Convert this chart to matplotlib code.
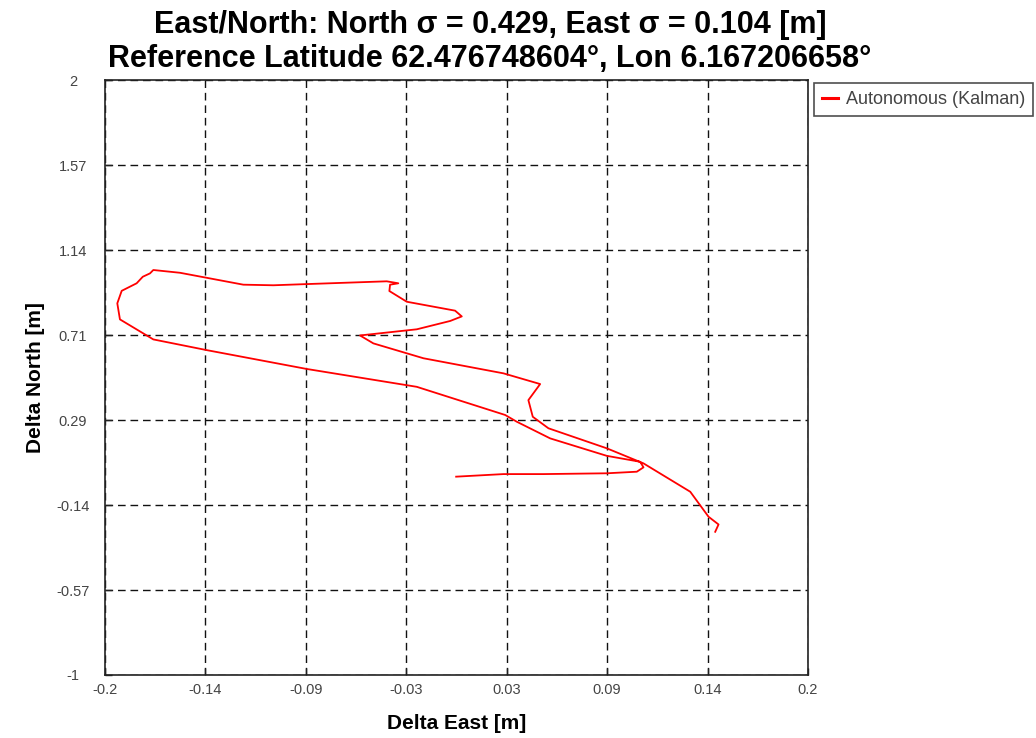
import matplotlib
matplotlib.use("Agg")
import matplotlib.pyplot as plt
import numpy as np

plt.rcParams['font.family'] = ['Liberation Sans', 'DejaVu Sans']

# Trajectory (Delta East, Delta North) in metres
east = [-0.0002, 0.0267, 0.0495, 0.0855, 0.1026, 0.1064, 0.1045, 0.0855, 0.0533,
        0.0343, 0.0277, -0.0226, -0.0852, -0.1421, -0.1725, -0.1915, -0.1930,
        -0.1905, -0.1820, -0.1785, -0.1744, -0.1725, -0.1573, -0.1213, -0.1042,
        -0.0852, -0.0397, -0.0331, -0.0378, -0.0382, -0.0283, -0.0008, 0.0030,
        -0.0036, -0.0226, -0.0549, -0.0473, -0.0188, 0.0267, 0.0476, 0.0409,
        0.0434, 0.0523, 0.0855, 0.1064, 0.1330, 0.1434, 0.1491, 0.1472]
north = [0.000, 0.013, 0.013, 0.017, 0.025, 0.047, 0.075, 0.105, 0.193,
         0.277, 0.311, 0.453, 0.543, 0.638, 0.692, 0.793, 0.874,
         0.937, 0.975, 1.008, 1.025, 1.042, 1.028, 0.968, 0.965,
         0.971, 0.985, 0.975, 0.968, 0.936, 0.882, 0.837, 0.808,
         0.785, 0.743, 0.712, 0.672, 0.597, 0.521, 0.467, 0.386,
         0.302, 0.244, 0.143, 0.067, -0.076, -0.202, -0.241, -0.278]

x_min, x_max = -0.2, 0.2
y_min, y_max = -1.0, 2.0
n_div = 7
x_ticks = np.linspace(x_min, x_max, n_div + 1)
y_ticks = np.linspace(y_min, y_max, n_div + 1)
x_labels = ["-0.2", "-0.14", "-0.09", "-0.03", "0.03", "0.09", "0.14", "0.2"]
y_labels = ["-1", "-0.57", "-0.14", "0.29", "0.71", "1.14", "1.57", "2"]

W, H = 1036, 738
fig = plt.figure(figsize=(W / 100, H / 100), dpi=100)
ax = fig.add_axes([105 / W, 1 - 675 / H, (808 - 105) / W, (675 - 80) / H])

ax.plot(east, north, color='#ff0000', linewidth=1.3, label='Autonomous (Kalman)')

ax.set_xlim(x_min, x_max)
ax.set_ylim(y_min, y_max)
ax.set_xticks(x_ticks)
ax.set_xticklabels(x_labels)
ax.set_yticks(y_ticks)
ax.set_yticklabels(y_labels)
ax.tick_params(axis='both', direction='in', length=5, width=1, labelsize=10.5,
               labelcolor='#444444', color='#222222')
ax.tick_params(axis='x', pad=6)
ax.tick_params(axis='y', pad=23)
for lbl in ax.get_yticklabels():
    lbl.set_horizontalalignment('center')
ax.grid(True, color='#111111', linestyle=(0, (5.5, 3.5)), linewidth=1)
for s in ax.spines.values():
    s.set_color('#222222')
    s.set_linewidth(1.2)

ax.set_xlabel('Delta East [m]', fontsize=15, fontweight='bold', labelpad=12)
ax.set_ylabel('Delta North [m]', fontsize=15, fontweight='bold', labelpad=8)

fig.text(490 / W, 1 - 25 / H,
         'East/North: North σ = 0.429, East σ = 0.104 [m]',
         ha='center', va='center', fontsize=22, fontweight='bold')
fig.text(490 / W, 1 - 59 / H,
         'Reference Latitude 62.476748604°, Lon 6.167206658°',
         ha='center', va='center', fontsize=22, fontweight='bold')

leg = ax.legend(loc='upper left', bbox_to_anchor=(814 / W, 1 - 83 / H),
                bbox_transform=fig.transFigure, frameon=True, fancybox=False,
                fontsize=13, handlelength=0.9, handletextpad=0.4,
                borderpad=0.45, borderaxespad=0)
leg.get_frame().set_edgecolor('#222222')
leg.get_frame().set_linewidth(1.2)
for t in leg.get_texts():
    t.set_color('#444444')
for l in leg.get_lines():
    l.set_linewidth(2.2)

fig.savefig('out.png', dpi=100)
